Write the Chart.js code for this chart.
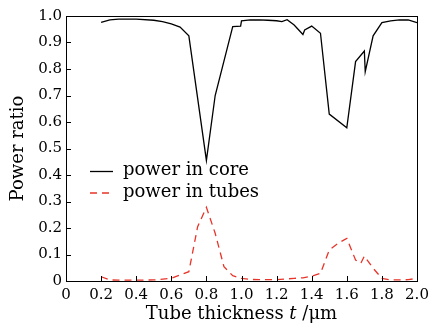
<!DOCTYPE html>
<html>
<head>
<meta charset="utf-8">
<script src="https://cdn.jsdelivr.net/npm/chart.js@4/dist/chart.umd.min.js"></script>
<style>
  html, body { margin: 0; padding: 0; background: #fff; }
  #wrap { width: 444px; height: 327px; }
</style>
</head>
<body>
<div id="wrap"><canvas id="graph_power"></canvas></div>
<script>
// thickness t (um) and power ratio
var coreT     = [0.2, 0.25, 0.3, 0.4, 0.5, 0.55, 0.6, 0.65, 0.7, 0.8, 0.85, 0.95, 0.995, 1.0, 1.05, 1.1, 1.15, 1.2, 1.23, 1.26, 1.3, 1.35, 1.36, 1.4, 1.45, 1.5, 1.6, 1.65, 1.7, 1.705, 1.75, 1.8, 1.85, 1.9, 1.95, 2.0];
var corePower = [0.976, 0.985, 0.988, 0.988, 0.984, 0.979, 0.970, 0.958, 0.925, 0.455, 0.700, 0.960, 0.962, 0.982, 0.985, 0.985, 0.984, 0.982, 0.979, 0.986, 0.966, 0.930, 0.947, 0.962, 0.935, 0.630, 0.578, 0.828, 0.868, 0.790, 0.925, 0.975, 0.982, 0.985, 0.985, 0.975];

var tubeT     = [0.2, 0.25, 0.3, 0.4, 0.5, 0.6, 0.7, 0.75, 0.8, 0.85, 0.9, 0.95, 1.0, 1.05, 1.1, 1.2, 1.3, 1.35, 1.4, 1.45, 1.5, 1.55, 1.6, 1.65, 1.68, 1.7, 1.75, 1.8, 1.85, 1.9, 1.95, 2.0];
var tubePower = [0.016, 0.004, 0.003, 0.003, 0.004, 0.010, 0.035, 0.205, 0.278, 0.180, 0.054, 0.020, 0.010, 0.006, 0.005, 0.005, 0.010, 0.012, 0.018, 0.029, 0.117, 0.142, 0.161, 0.079, 0.067, 0.094, 0.048, 0.010, 0.004, 0.004, 0.005, 0.010];

var labels = ['power in core', 'power in tubes'];
// x title pieces: normal, italic, normal
var xTitle = ['Tube thickness ', 't', ' /μm'];

function pts(xs, ys) {
  return xs.map(function (x, i) { return { x: x, y: ys[i] }; });
}

var serif = "'DejaVu Serif', serif";

// frame + inward ticks + legend inside the plot + x title with italic t
var framePlugin = {
  id: 'frame',
  afterDraw: function (chart) {
    var c = chart.ctx, a = chart.chartArea;
    c.save();
    c.strokeStyle = '#000';
    c.lineWidth = 1;
    c.strokeRect(a.left + 0.5, a.top + 0.5, a.right - a.left, a.bottom - a.top);

    var xs = chart.scales.x, ys = chart.scales.y, len = 5;
    c.beginPath();
    xs.ticks.forEach(function (t) {
      var px = Math.round(xs.getPixelForValue(t.value)) + 0.5;
      c.moveTo(px, a.bottom); c.lineTo(px, a.bottom - len);
    });
    ys.ticks.forEach(function (t) {
      var py = Math.round(ys.getPixelForValue(t.value)) + 0.5;
      c.moveTo(a.left, py); c.lineTo(a.left + len, py);
    });
    c.stroke();

    // legend
    var ly = [171.5, 193];
    c.font = '18px ' + serif;
    c.textBaseline = 'middle';
    chart.data.datasets.forEach(function (ds, i) {
      c.beginPath();
      c.strokeStyle = ds.borderColor;
      c.lineWidth = ds.borderWidth;
      c.setLineDash(ds.borderDash || []);
      c.moveTo(90, ly[i]); c.lineTo(113, ly[i]);
      c.stroke();
      c.setLineDash([]);
      c.fillStyle = '#000';
      c.fillText(ds.label, 123, ly[i] - 1);
    });

    // x axis title
    var fonts = ['18px ' + serif, 'italic 18px ' + serif, '18px ' + serif];
    var w = 0;
    xTitle.forEach(function (s, i) { c.font = fonts[i]; w += c.measureText(s).width; });
    var x = (a.left + a.right) / 2 - w / 2;
    c.textAlign = 'left';
    xTitle.forEach(function (s, i) {
      c.font = fonts[i];
      c.fillText(s, x, 314);
      x += c.measureText(s).width;
    });
    c.restore();
  }
};

var ctx = document.getElementById('graph_power');

var myChart = new Chart(ctx, {
  type: 'line',
  data: {
    datasets: [{
      label: labels[0],
      data: pts(coreT, corePower),
      borderColor: '#000',
      borderWidth: 1.3,
      pointRadius: 0,
      tension: 0
    }, {
      label: labels[1],
      data: pts(tubeT, tubePower),
      borderColor: '#e8352a',
      borderWidth: 1.3,
      borderDash: [7, 5],
      pointRadius: 0,
      tension: 0
    }]
  },
  options: {
    responsive: true,
    maintainAspectRatio: false,
    animation: false,
    layout: { padding: { left: 0, right: 27, top: 16, bottom: 0 } },
    plugins: {
      legend: { display: false },
      tooltip: { enabled: false }
    },
    scales: {
      x: {
        type: 'linear',
        min: 0, max: 2,
        grid: { display: false, drawTicks: false },
        border: { display: false },
        afterFit: function (s) { s.height = 46; },
        ticks: {
          stepSize: 0.2,
          padding: 5,
          maxRotation: 0,
          color: '#000',
          font: { family: serif, size: 15 },
          callback: function (v) { return v === 0 ? '0' : v.toFixed(1); }
        }
      },
      y: {
        min: 0, max: 1,
        grid: { display: false, drawTicks: false },
        border: { display: false },
        afterFit: function (s) { s.width = 66; },
        ticks: {
          stepSize: 0.1,
          padding: 4,
          color: '#000',
          font: { family: serif, size: 15 },
          callback: function (v) { return v === 0 ? '0' : v.toFixed(1); }
        },
        title: {
          display: true,
          text: 'Power ratio',
          color: '#000',
          font: { family: serif, size: 18 },
          padding: { top: 8, bottom: 0 }
        }
      }
    }
  },
  plugins: [framePlugin]
});
</script>
</body>
</html>
